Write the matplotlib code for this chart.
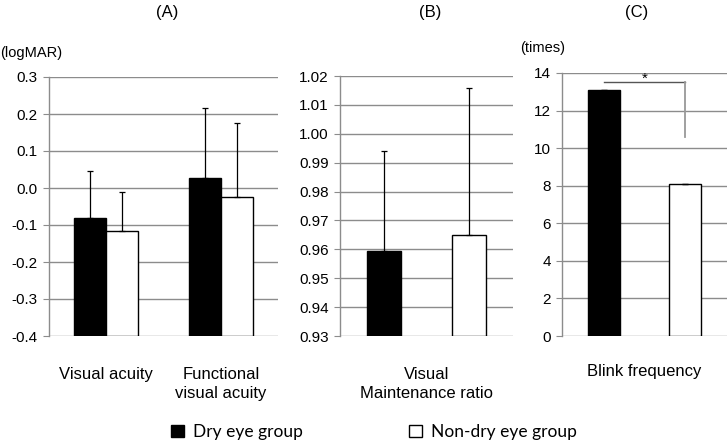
import matplotlib
matplotlib.use('Agg')
import matplotlib.pyplot as plt
from matplotlib.patches import Patch
from matplotlib.ticker import FormatStrFormatter

plt.rcParams['font.family'] = ['Liberation Sans', 'DejaVu Sans']
plt.rcParams['axes.unicode_minus'] = False

# data
groups = ['Dry eye group', 'Non-dry eye group']

# (A) logMAR
a_labels = ['Visual acuity', 'Functional\nvisual acuity']
a_dry = [-0.081, 0.027]
a_dry_sd = [0.127, 0.189]
a_non = [-0.117, -0.024]
a_non_sd = [0.106, 0.200]

# (B) visual maintenance ratio
b_label = 'Visual\nMaintenance ratio'
b_dry, b_dry_sd = 0.9593, 0.0349
b_non, b_non_sd = 0.9648, 0.0510

# (C) blink frequency (times)
c_label = 'Blink frequency'
c_dry, c_dry_sd = 13.08, 0.02
c_non, c_non_sd = 8.10, 0.0

W, H = 727, 443
fig = plt.figure(figsize=(W / 100, H / 100), dpi=100)


def px_axes(x0, x1, ytop, ybot):
    return fig.add_axes([x0 / W, (H - ybot) / H, (x1 - x0) / W, (ybot - ytop) / H])


grid_col = '#8c8c8c'


def style(ax):
    for s in ['top', 'right', 'bottom']:
        ax.spines[s].set_visible(False)
    ax.spines['left'].set_color(grid_col)
    ax.spines['left'].set_linewidth(1)
    ax.yaxis.grid(True, color=grid_col, linewidth=1)
    ax.set_axisbelow(True)
    ax.tick_params(axis='y', length=4, color=grid_col, labelsize=11, pad=4)
    ax.tick_params(axis='x', length=0, labelsize=12, pad=22)
    for t in ax.get_xticklabels():
        t.set_linespacing(1.35)


err_kw = dict(ecolor='black', elinewidth=0.9, capsize=2, capthick=0.9)

# panel A
axA = px_axes(49, 278, 77, 336)
xs = range(len(a_labels))
w = 0.28
floor = -0.4
axA.bar([x - w / 2 for x in xs], [v - floor for v in a_dry], bottom=floor,
        width=w, color='black', edgecolor='black',
        yerr=[[0] * 2, a_dry_sd], error_kw=err_kw)
axA.bar([x + w / 2 for x in xs], [v - floor for v in a_non], bottom=floor,
        width=w, color='white', edgecolor='black', linewidth=1,
        yerr=[[0] * 2, a_non_sd], error_kw=err_kw)
axA.set_ylim(-0.4, 0.3)
axA.set_yticks([-0.4, -0.3, -0.2, -0.1, 0.0, 0.1, 0.2, 0.3])
axA.yaxis.set_major_formatter(FormatStrFormatter('%.1f'))
axA.set_xlim(-0.5, 1.5)
axA.set_xticks(list(xs))
axA.set_xticklabels(a_labels)
style(axA)

# panel B
axB = px_axes(340, 513, 76, 336)
off, wb = 0.245, 0.197
axB.bar([-off], [b_dry - 0.93], bottom=0.93, width=wb, color='black',
        edgecolor='black', yerr=[[0], [b_dry_sd]], error_kw=err_kw)
axB.bar([off], [b_non - 0.93], bottom=0.93, width=wb, color='white',
        edgecolor='black', linewidth=1, yerr=[[0], [b_non_sd]], error_kw=err_kw)
axB.set_ylim(0.93, 1.02)
axB.set_yticks([0.93 + 0.01 * i for i in range(10)])
axB.yaxis.set_major_formatter(FormatStrFormatter('%.2f'))
axB.set_xlim(-0.5, 0.5)
axB.set_xticks([0])
axB.set_xticklabels([b_label])
style(axB)

# panel C
axC = px_axes(562, 727, 73, 336)
wc = 0.195
axC.bar([-off], [c_dry], width=wc, color='black', edgecolor='black',
        yerr=[[0], [c_dry_sd]], error_kw=err_kw)
axC.bar([off], [c_non], width=wc, color='white', edgecolor='black',
        linewidth=1, yerr=[[0], [c_non_sd]], error_kw=err_kw)
axC.set_ylim(0, 14)
axC.set_yticks(range(0, 15, 2))
axC.set_xlim(-0.5, 0.5)
axC.set_xticks([0])
axC.set_xticklabels([c_label])
style(axC)
axC.tick_params(axis='x', pad=20)
# significance bracket
axC.plot([-off, off], [13.52, 13.52], color='#555555', linewidth=1, clip_on=False)
axC.plot([off, off], [13.52, 10.6], color='#999999', linewidth=1.3, clip_on=False)
axC.text(0, 13.3, '*', ha='center', va='bottom', fontsize=11)

# titles and units
fig.text(167 / W, 1 - 13 / H, '(A)', ha='center', va='center', fontsize=12)
fig.text(430 / W, 1 - 13 / H, '(B)', ha='center', va='center', fontsize=12)
fig.text(637 / W, 1 - 13 / H, '(C)', ha='center', va='center', fontsize=12)
fig.text(0, 1 - 53 / H, '(logMAR)', ha='left', va='center', fontsize=10.5)
fig.text(520 / W, 1 - 48 / H, '(times)', ha='left', va='center', fontsize=10.5)

handles = [Patch(facecolor='black', edgecolor='black'),
           Patch(facecolor='white', edgecolor='black')]
fig.legend(handles, groups, loc='center', bbox_to_anchor=(374 / W, 11 / H),
           ncol=2, frameon=False, handlelength=0.75, handleheight=0.75,
           handletextpad=0.52, columnspacing=6.1,
           prop={'family': 'Lato', 'size': 12.5})

fig.savefig('out.png', dpi=100)
